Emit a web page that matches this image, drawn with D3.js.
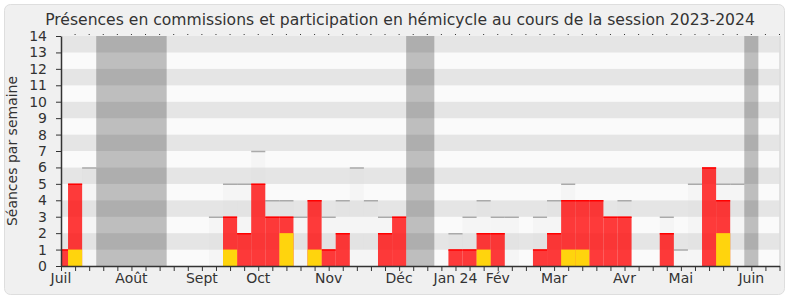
<!DOCTYPE html>
<html>
<head>
<meta charset="utf-8">
<script src="https://cdn.jsdelivr.net/npm/d3@7"></script>
<style>
    html, body { margin: 0; padding: 0; background: #fff; }
    svg { display: block; font-family: 'DejaVu Sans', Verdana, sans-serif; }
</style>
</head>
<body>
<div id="chart"></div>
<script>
// ── 数据 ──────────────────────────────────────────────────────────────────
const weeks = d3.range(52);

// 委员会出席（红）
const commission = [1,5,0,0,0,0,0,0,0,0, 0,0,3,2,5,3,3,0,4,1, 2,0,0,2,3,0,0,0,1,1,
                    2,2,0,0,1,2,4,4,4,3, 3,0,0,2,0,0,6,4,0,0, 0,0];
// 半圆厅发言（黄）
const hemicycle  = [0,1,0,0,0,0,0,0,0,0, 0,0,1,0,0,0,2,0,1,0, 0,0,0,0,0,0,0,0,0,0,
                    1,0,0,0,0,0,1,1,0,0, 0,0,0,0,0,0,0,2,0,0, 0,0];
// 中位数（灰）
const median     = [0,0,6,0,0,0,0,0,0,0, 0,3,5,5,7,4,4,3,0,3, 4,6,4,3,0,0,0,0,2,3,
                    4,3,3,0,3,4,5,0,0,0, 4,0,0,3,1,5,0,5,5,0, 0,0];

const vacStart = [2.5, 24.5, 48.5];
const vacEnd   = [7.5, 26.5, 49.5];

const monthLabels = ['Juil','Août','Sept','Oct','Nov','Déc','Jan 24','Fév','Mar','Avr','Mai','Juin'];
const monthWeeks  = [0, 5, 10, 14, 19, 24, 28, 31, 35, 40, 44, 49];

const yTicks = d3.range(0, 15);

(function () {
    'use strict';

    const W = 790, H = 300;
    const left = 61, right = 779.5, top = 36, bottom = 266;

    const svg = d3.select('#chart').append('svg')
        .attr('width', W).attr('height', H);

    // ── 面板 ─────────────────────────────────────────────────────────────
    svg.append('rect')
        .attr('x', 4.5).attr('y', 4.5)
        .attr('width', 780).attr('height', 290)
        .attr('rx', 6)
        .attr('fill', '#f0f0f0')
        .attr('stroke', '#dedede');

    const x = d3.scaleLinear().domain([0, 51]).range([left, right]);
    const y = d3.scaleLinear().domain([0, 14]).range([bottom, top]);
    const bw = x(1) - x(0);

    svg.append('clipPath').attr('id', 'plot-clip')
        .append('rect')
        .attr('x', left).attr('y', top)
        .attr('width', right - left).attr('height', bottom - top);

    const g = svg.append('g').attr('clip-path', 'url(#plot-clip)');

    // ── 横条纹背景 ───────────────────────────────────────────────────────
    g.selectAll('rect.stripe')
        .data(d3.range(0, 14))
        .enter().append('rect')
        .attr('class', 'stripe')
        .attr('x', left).attr('width', right - left)
        .attr('y', d => y(d + 1))
        .attr('height', d => y(d) - y(d + 1))
        .attr('fill', d => d % 2 === 1 ? '#e5e5e5' : '#fafafa');

    // ── 灰色中位数柱 ─────────────────────────────────────────────────────
    const medData = weeks.filter(i => median[i] > 0);
    g.selectAll('rect.med')
        .data(medData)
        .enter().append('rect')
        .attr('x', i => x(i - 0.5)).attr('width', bw)
        .attr('y', i => y(median[i]))
        .attr('height', i => y(0) - y(median[i]))
        .attr('fill', 'rgba(210,210,210,0.12)');

    g.selectAll('line.med')
        .data(medData)
        .enter().append('line')
        .attr('x1', i => x(i - 0.5)).attr('x2', i => x(i + 0.5))
        .attr('y1', i => y(median[i]) + 0.5).attr('y2', i => y(median[i]) + 0.5)
        .attr('stroke', '#aaaaaa')
        .attr('stroke-width', 1.5);

    // ── 红色：委员会 ─────────────────────────────────────────────────────
    const comData = weeks.filter(i => commission[i] > 0);
    g.selectAll('rect.com')
        .data(comData)
        .enter().append('rect')
        .attr('x', i => x(i - 0.5)).attr('width', bw)
        .attr('y', i => y(commission[i]))
        .attr('height', i => y(0) - y(commission[i]))
        .attr('fill', 'rgba(255,10,10,0.8)');

    g.selectAll('line.com')
        .data(comData)
        .enter().append('line')
        .attr('x1', i => x(i - 0.5)).attr('x2', i => x(i + 0.5))
        .attr('y1', i => y(commission[i]) + 0.5).attr('y2', i => y(commission[i]) + 0.5)
        .attr('stroke', '#ff0000')
        .attr('stroke-width', 1.5);

    // ── 黄色：半圆厅 ─────────────────────────────────────────────────────
    g.selectAll('rect.hem')
        .data(weeks.filter(i => hemicycle[i] > 0))
        .enter().append('rect')
        .attr('x', i => x(i - 0.5)).attr('width', bw)
        .attr('y', i => y(hemicycle[i]))
        .attr('height', i => y(0) - y(hemicycle[i]))
        .attr('fill', '#ffd40d');

    // ── 假期 ─────────────────────────────────────────────────────────────
    g.selectAll('rect.vac')
        .data(vacStart.map((s, k) => [s, vacEnd[k]]))
        .enter().append('rect')
        .attr('x', d => x(d[0])).attr('width', d => x(d[1]) - x(d[0]))
        .attr('y', top).attr('height', bottom - top)
        .attr('fill', 'rgba(0,0,0,0.24)');

    // 右边框
    svg.append('line')
        .attr('x1', right + 0.5).attr('x2', right + 0.5)
        .attr('y1', top).attr('y2', bottom)
        .attr('stroke', '#cfcfcf');

    // ── 坐标轴 ───────────────────────────────────────────────────────────
    const xAxis = svg.append('g')
        .attr('transform', `translate(0,${bottom})`)
        .call(d3.axisBottom(x).tickValues(weeks).tickSize(5).tickFormat('').tickSizeOuter(0));
    xAxis.select('.domain').attr('stroke', '#333').attr('stroke-width', 1.5);
    xAxis.selectAll('.tick line').attr('stroke', '#333');

    svg.append('g').selectAll('text')
        .data(monthWeeks)
        .enter().append('text')
        .attr('x', d => x(d))
        .attr('y', 283)
        .attr('text-anchor', 'middle')
        .attr('fill', '#333')
        .style('font-size', '14px')
        .text((d, k) => monthLabels[k]);

    // 顶部小点刻度
    svg.append('g').selectAll('line')
        .data(weeks.slice(1))
        .enter().append('line')
        .attr('x1', d => x(d)).attr('x2', d => x(d))
        .attr('y1', top - 2).attr('y2', top - 1)
        .attr('stroke', '#333');

    const yAxis = svg.append('g')
        .attr('transform', `translate(${left},0)`)
        .call(d3.axisLeft(y).tickValues(yTicks).tickSize(5).tickSizeOuter(0).tickPadding(9));
    yAxis.select('.domain').attr('stroke', '#333').attr('stroke-width', 1.5);
    yAxis.selectAll('.tick line').attr('stroke', '#333');
    yAxis.selectAll('.tick text')
        .attr('fill', '#333')
        .style('font-size', '14px')
        .style('font-family', "'DejaVu Sans', Verdana, sans-serif");

    // ── 标题 ─────────────────────────────────────────────────────────────
    svg.append('text')
        .attr('x', 400).attr('y', 25)
        .attr('text-anchor', 'middle')
        .attr('fill', '#333')
        .style('font-size', '15.6px')
        .text('Présences en commissions et participation en hémicycle au cours de la session 2023-2024');

    svg.append('text')
        .attr('transform', `translate(17,${(top + bottom) / 2}) rotate(-90)`)
        .attr('text-anchor', 'middle')
        .attr('fill', '#333')
        .style('font-size', '14px')
        .text('Séances par semaine');
})();
</script>
</body>
</html>
